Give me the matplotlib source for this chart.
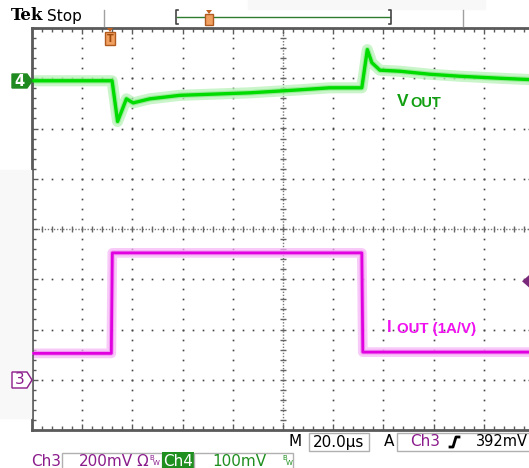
import numpy as np
import matplotlib
matplotlib.use('Agg')
import matplotlib.pyplot as plt
from matplotlib.patches import Polygon, Rectangle

W, H = 529, 468

# Ch4 : VOUT, deviation in mV (100mV/div)
t_vout = [-31.1, 0.9, 3.1, 6.6, 9.3, 15.9, 27.9, 55.8, 75.7, 87.6, 100.4,
          102.6, 104.4, 107.6, 115.5, 127.5, 139.4, 155.4, 168.9]
vout_mv = [0, 0, -81, -36, -44, -36, -29, -24, -18, -14, -14,
           62, 36, 21, 19, 13, 9, 5, 2]

# Ch3 : IOUT in A (200mV/div, 1A/V)
t_iout = [-31.1, 0.6, 1.0, 100.4, 100.8, 168.9]
iout_a = [0.105, 0.105, 0.505, 0.505, 0.11, 0.11]

us_per_div = 20.0
trig_div = 1.55
ch4_mv_per_div, ch4_pos = 100.0, 2.95
ch3_a_per_div, ch3_pos = 0.2, -3.0
trig_level_a = 0.392

GREEN = '#00dc00'
GREEN_HALO = '#b4f0b4'
MAG = '#e000e0'
MAG_HALO = '#f6b4f6'
PURPLE = '#8b1c8b'
DKGREEN = '#1f8f1f'
GRAY = '#5a5a5a'


def fx(x):
    return x / W


def fy(y):
    return 1 - y / H


fig = plt.figure(figsize=(W / 100, H / 100), dpi=100)
fig.patch.set_facecolor('white')

# faint background patches of the screen
fig.patches.append(Rectangle((0, fy(418)), fx(31), (418 - 170) / H,
                             transform=fig.transFigure, color='#f8f8f8', zorder=0))
fig.patches.append(Rectangle((fx(248), fy(9)), (485 - 248) / W, 9 / H,
                             transform=fig.transFigure, color='#f8f8f8', zorder=0))

ax = fig.add_axes([fx(32), fy(430), 502 / W, 402 / H])
ax.set_xlim(0, 10)
ax.set_ylim(-4, 4)
ax.set_xticklabels([])
ax.set_yticklabels([])
ax.set_xticks(np.arange(0, 10.01, 1))
ax.set_yticks(np.arange(-4, 4.01, 1))
ax.set_xticks(np.arange(0, 10.01, 0.2), minor=True)
ax.set_yticks(np.arange(-4, 4.01, 0.2), minor=True)
ax.tick_params(which='both', direction='in', top=True, right=True,
               color=GRAY, width=1)
ax.tick_params(which='major', length=4)
ax.tick_params(which='minor', length=3)
for s in ax.spines.values():
    s.set_color(GRAY)
    s.set_linewidth(2)

# dotted graticule
dots = np.arange(-4, 4.01, 0.2)
for k in range(1, 10):
    if k == 5:
        continue
    ax.plot(np.full_like(dots, k), dots, ls='none', marker='s', ms=1.2,
            mew=0, color='#444444', zorder=1)
dots = np.arange(0, 10.01, 0.2)
for m in range(-3, 4):
    if m == 0:
        continue
    ax.plot(dots, np.full_like(dots, m), ls='none', marker='s', ms=1.2,
            mew=0, color='#444444', zorder=1)

# centre cross with ticks
ax.axvline(5, color='#777777', lw=1, ls=(0, (1, 1.2)), zorder=1)
ax.axhline(0, color='#777777', lw=1, ls=(0, (1, 1.2)), zorder=1)
yy = np.arange(-4, 4.01, 0.2)
ax.plot(np.full_like(yy, 5), yy, ls='none', marker='_', ms=5, mew=1,
        color='#666666', zorder=1)
xx = np.arange(0, 10.01, 0.2)
ax.plot(xx, np.zeros_like(xx), ls='none', marker='|', ms=5, mew=1,
        color='#666666', zorder=1)

# traces
xv = np.array(t_vout) / us_per_div + trig_div
yv = np.array(vout_mv) / ch4_mv_per_div + ch4_pos
xi = np.array(t_iout) / us_per_div + trig_div
yi = np.array(iout_a) / ch3_a_per_div + ch3_pos

ax.plot(xv, yv, color=GREEN_HALO, lw=8, alpha=0.7, solid_joinstyle='round', zorder=2)
ax.plot(xv, yv, color='#7ee87e', lw=4, alpha=0.6, solid_joinstyle='round', zorder=2)
ax.plot(xv, yv, color=GREEN, lw=2.4, zorder=3)
ax.plot(xi, yi, color=MAG_HALO, lw=7, alpha=0.7, solid_joinstyle='round', zorder=2)
ax.plot(xi, yi, color='#f07cf0', lw=3.5, alpha=0.6, solid_joinstyle='round', zorder=2)
ax.plot(xi, yi, color=MAG, lw=2.0, zorder=3)

# trace labels
fig.text(fx(397), fy(102), 'V', color='#12a012', fontsize=12.5, weight='bold',
         family='Liberation Sans', ha='left', va='center')
fig.text(fx(410), fy(103), 'OUT', color='#12a012', fontsize=10.5, weight='bold',
         family='Liberation Sans', ha='left', va='center')
fig.text(fx(387), fy(328), 'I', color='#f010f0', fontsize=12, weight='bold',
         family='Liberation Sans', ha='left', va='center')
fig.text(fx(397), fy(329), 'OUT (1A/V)', color='#f010f0', fontsize=10.8, weight='bold',
         family='Liberation Sans', ha='left', va='center')

# channel ground markers
y4 = 81
fig.patches.append(Polygon([(fx(12), fy(y4 - 7)), (fx(27), fy(y4 - 7)), (fx(32), fy(y4)),
                            (fx(27), fy(y4 + 7)), (fx(12), fy(y4 + 7))],
                           closed=True, transform=fig.transFigure,
                           facecolor='#1f8a1f', edgecolor='#1f8a1f', zorder=5))
fig.text(fx(19.5), fy(y4), '4', color='white', fontsize=10.5, weight='bold',
         ha='center', va='center', zorder=6)
y3 = 380
fig.patches.append(Polygon([(fx(12), fy(y3 - 8)), (fx(27), fy(y3 - 8)), (fx(32), fy(y3)),
                            (fx(27), fy(y3 + 8)), (fx(12), fy(y3 + 8))],
                           closed=True, transform=fig.transFigure,
                           facecolor='white', edgecolor=PURPLE, lw=1, zorder=5))
fig.text(fx(19.5), fy(y3), '3', color=PURPLE, fontsize=11,
         ha='center', va='center', zorder=6)

# trigger level marker at right edge
ty = 229 - (trig_level_a / ch3_a_per_div + ch3_pos) * 50.25
fig.patches.append(Polygon([(fx(522), fy(ty)), (fx(530), fy(ty - 7)), (fx(530), fy(ty + 7))],
                           closed=True, transform=fig.transFigure,
                           facecolor='#7b2a7b', edgecolor='none', zorder=5))


def t_marker(xc, ytop, h):
    # orange trigger position glyph
    fig.patches.append(Polygon([(fx(xc - 3), fy(ytop)), (fx(xc + 3), fy(ytop)), (fx(xc), fy(ytop + 4))],
                               closed=True, transform=fig.transFigure,
                               facecolor='#c06020', edgecolor='none', zorder=7))
    fig.patches.append(Rectangle((fx(xc - 5), fy(ytop + 4 + h)), 10 / W, h / H,
                                 transform=fig.transFigure, facecolor='#f0a060',
                                 edgecolor='#b05a20', lw=1, zorder=7))
    fig.text(fx(xc), fy(ytop + 4 + h / 2), 'T', color='#a04a10', fontsize=7,
             weight='bold', ha='center', va='center', zorder=8)


t_marker(110, 28, 13)

# header
fig.text(fx(11), fy(16), 'Tek', fontsize=12, weight='bold', family='DejaVu Serif',
         ha='left', va='center')
fig.text(fx(47), fy(16), 'Stop', fontsize=11, ha='left', va='center')
fig.lines.append(plt.Line2D([fx(104), fx(104)], [fy(10), fy(26)], transform=fig.transFigure,
                            color='#a0a0a0', lw=1))
fig.lines.append(plt.Line2D([fx(463), fx(463)], [fy(10), fy(26)], transform=fig.transFigure,
                            color='#a0a0a0', lw=1))
fig.lines.append(plt.Line2D([fx(177), fx(390)], [fy(17), fy(17)], transform=fig.transFigure,
                            color='#2e7d2e', lw=1))
fig.lines.append(plt.Line2D([fx(178), fx(176), fx(176), fx(178)], [fy(10), fy(10), fy(24), fy(24)],
                            transform=fig.transFigure, color='#444444', lw=1.2))
fig.lines.append(plt.Line2D([fx(389), fx(391), fx(391), fx(389)], [fy(10), fy(10), fy(24), fy(24)],
                            transform=fig.transFigure, color='#444444', lw=1.2))
fig.patches.append(Rectangle((fx(205), fy(25)), 8 / W, 11 / H, transform=fig.transFigure,
                             facecolor='#f0a060', edgecolor='#b05a20', lw=1, zorder=7))
fig.patches.append(Polygon([(fx(206), fy(10)), (fx(212), fy(10)), (fx(209), fy(14))],
                           closed=True, transform=fig.transFigure,
                           facecolor='#c06020', edgecolor='none', zorder=7))

# bottom status line 1
BOX = '#b0b0b0'
fig.text(fx(295), fy(442), 'M', fontsize=11, ha='center', va='center')
fig.patches.append(Rectangle((fx(309), fy(451)), 60 / W, 18 / H, transform=fig.transFigure,
                             facecolor='white', edgecolor=BOX, lw=1))
fig.text(fx(339), fy(442), '20.0µs', fontsize=11, ha='center', va='center')
fig.text(fx(389), fy(442), 'A', fontsize=11, ha='center', va='center')
fig.patches.append(Rectangle((fx(397), fy(451)), 150 / W, 18 / H, transform=fig.transFigure,
                             facecolor='white', edgecolor=BOX, lw=1))
fig.text(fx(425), fy(442), 'Ch3', fontsize=11, color=PURPLE, ha='center', va='center')
fig.lines.append(plt.Line2D([fx(450), fx(453), fx(456), fx(459)], [fy(447), fy(447), fy(437), fy(437)],
                            transform=fig.transFigure, color='black', lw=2))
fig.text(fx(476), fy(442), '392mV', fontsize=10.5, ha='left', va='center')

# bottom status line 2
fig.text(fx(46), fy(461), 'Ch3', fontsize=11, color=PURPLE, ha='center', va='center')
fig.patches.append(Rectangle((fx(62), fy(470)), 100 / W, 17 / H, transform=fig.transFigure,
                             facecolor='white', edgecolor=BOX, lw=1))
fig.text(fx(106), fy(461), '200mV', fontsize=11, color=PURPLE, ha='center', va='center')
fig.text(fx(142), fy(461), 'Ω', fontsize=11, color=PURPLE, ha='center', va='center')
fig.text(fx(152), fy(458), 'B', fontsize=5, color=PURPLE, ha='center', va='center')
fig.text(fx(156), fy(463), 'W', fontsize=5, color=PURPLE, ha='center', va='center')
fig.patches.append(Rectangle((fx(162), fy(470)), 32 / W, 18 / H, transform=fig.transFigure,
                             facecolor='#1f8f1f', edgecolor='none'))
fig.text(fx(178), fy(461), 'Ch4', fontsize=11, color='white', ha='center', va='center')
fig.patches.append(Rectangle((fx(194), fy(470)), 99 / W, 17 / H, transform=fig.transFigure,
                             facecolor='white', edgecolor=BOX, lw=1))
fig.text(fx(239), fy(461), '100mV', fontsize=11, color=DKGREEN, ha='center', va='center')
fig.text(fx(285), fy(458), 'B', fontsize=5, color=DKGREEN, ha='center', va='center')
fig.text(fx(289), fy(463), 'W', fontsize=5, color=DKGREEN, ha='center', va='center')

fig.savefig('out.png', dpi=100)
